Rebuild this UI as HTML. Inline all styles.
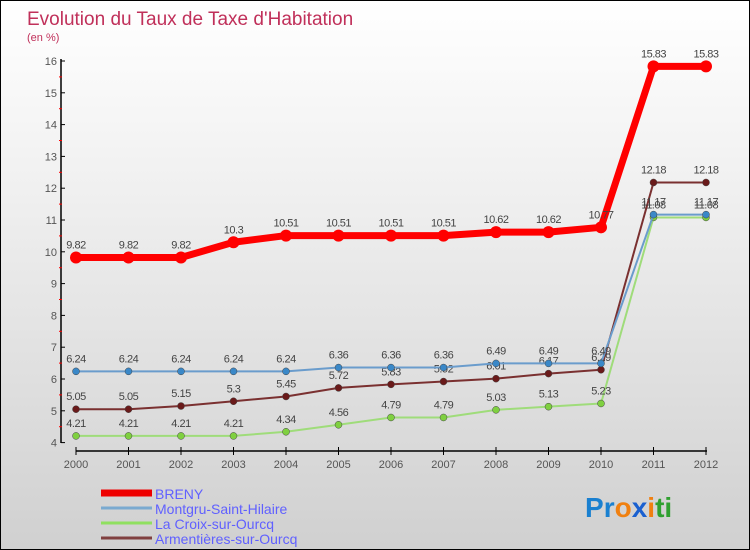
<!DOCTYPE html>
<html><head><meta charset="utf-8"><style>
body{margin:0}
#c{width:748px;height:548px;border:1px solid #000;background:linear-gradient(#fff,#f2f2f2 30%,#d0d0d0);position:relative;font-family:"Liberation Sans",sans-serif}
</style></head><body>
<div id="c">
<svg id="s" width="748" height="548" style="position:absolute;left:0;top:0">
<text x="26" y="24" font-size="19" fill="#c0305a">Evolution du Taux de Taxe d'Habitation</text>
<text x="26" y="40" font-size="11" fill="#c0305a">(en %)</text>
</svg>
</div>
<script>
const years=[2000,2001,2002,2003,2004,2005,2006,2007,2008,2009,2010,2011,2012];
const breny=[9.82,9.82,9.82,10.3,10.51,10.51,10.51,10.51,10.62,10.62,10.77,15.83,15.83];
const montgru=[6.24,6.24,6.24,6.24,6.24,6.36,6.36,6.36,6.49,6.49,6.49,11.17,11.17];
const croix=[4.21,4.21,4.21,4.21,4.34,4.56,4.79,4.79,5.03,5.13,5.23,11.08,11.08];
const armen=[5.05,5.05,5.15,5.3,5.45,5.72,5.83,5.92,6.01,6.17,6.29,12.18,12.18];
const yTicks=[4,5,6,7,8,9,10,11,12,13,14,15,16];
const NS='http://www.w3.org/2000/svg';
const s=document.getElementById('s');
const X=i=>75+i*52.5;
const Y=v=>60+(16-v)*31.8;
function mk(t,a,p){const e=document.createElementNS(NS,t);for(const k in a)e.setAttribute(k,a[k]);(p||s).appendChild(e);return e;}
// axes
let ax=mk('line',{x1:60,y1:58,x2:60,y2:442,stroke:'#000','stroke-width':1.5});


let xa=mk('line',{x1:75,y1:450,x2:706,y2:450,stroke:'#000','stroke-width':1.5});


yTicks.forEach(v=>{mk('line',{x1:60,y1:Y(v),x2:64,y2:Y(v),stroke:'#000'});
if(v<16)mk('line',{x1:58,y1:Y(v+0.5),x2:61,y2:Y(v+0.5),stroke:'#f00'});
const t=mk('text',{x:56,y:Y(v)+4,'font-size':11,fill:'#555','text-anchor':'end'});t.textContent=v;

});
years.forEach((y,i)=>{mk('line',{x1:X(i),y1:446,x2:X(i),y2:454,stroke:'#000'});
const t=mk('text',{x:X(i),y:467,'font-size':11,fill:'#555','text-anchor':'middle'});t.textContent=y;

});
function series(d,col,w,r,fill,name,labelCol){
const g=mk('g',{});


mk('polyline',{points:d.map((v,i)=>X(i)+','+Y(v)).join(' '),fill:'none',stroke:col,'stroke-width':w,'stroke-linejoin':'round'},g);
d.forEach((v,i)=>{const c=mk('circle',{cx:X(i),cy:Y(v),r:r,fill:fill,stroke:w>4?'none':'#444','stroke-width':0.5},g);


const t=mk('text',{x:X(i),y:Y(v)-9,'font-size':11,fill:'#444','text-anchor':'middle','letter-spacing':'-0.5'},g);t.textContent=v;});
}
series(croix,'#9fdc7a',2,3.5,'#7fd040','croix-series');
series(armen,'#7a3030',2,3.5,'#6a1a1a','armentieres-series');
series(montgru,'#6a9ccc',2,3.5,'#3a88c8','montgru-series');
series(breny,'#f00',7,6,'#f00','breny-series');
const leg=[['BRENY','#e00',7],['Montgru-Saint-Hilaire','#7aaad0',3],['La Croix-sur-Ourcq','#90e060',3],['Armentières-sur-Ourcq','#804040',3]];
leg.forEach((l,i)=>{const y=492+i*15;
const g=mk('g',{});


mk('line',{x1:100,y1:y,x2:151,y2:y,stroke:l[1],'stroke-width':l[2]},g);
const t=mk('text',{x:154,y:y+6,'font-size':14,fill:'#6060ff'},g);t.textContent=l[0];});
const logo=mk('text',{x:584,y:516,'font-size':28,'font-weight':'bold'});


[['P','#1a80d0'],['r','#1a80d0'],['o','#f08010'],['x','#1a60d0'],['i','#f08010'],['t','#30a030'],['i','#30a030']].forEach(c=>{const ts=mk('tspan',{fill:c[1]},logo);ts.textContent=c[0];});
</script>
</body></html>
